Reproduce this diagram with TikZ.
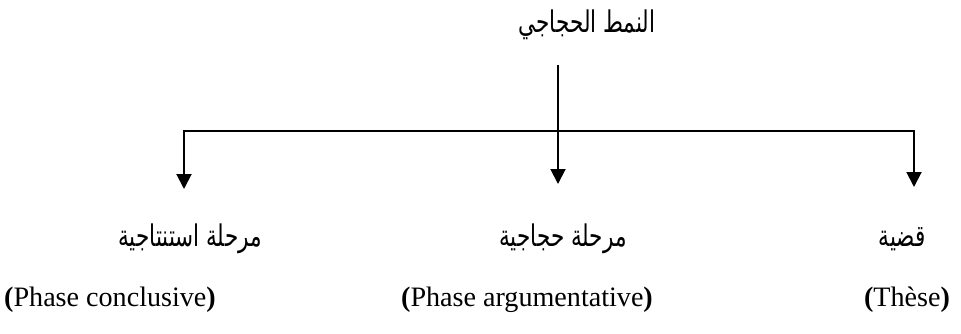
\documentclass[tikz,border=0pt]{standalone}
\usepackage{fontspec}
\setmainfont{Liberation Serif}
\newfontfamily\arabicfont[Script=Arabic, FakeStretch=0.72]{DejaVu Sans}
\TeXXeTstate=1
\usepackage{tikz}
\usetikzlibrary{arrows.meta}

\begin{document}
\begin{tikzpicture}[>={Triangle[length=0.3cm, width=0.3cm]},
  line width=1.1pt,
  arlbl/.style={font=\fontsize{17}{20}\selectfont\arabicfont, inner sep=0pt},
  frlbl/.style={font=\fontsize{16}{19}\selectfont, inner sep=0pt}]
\useasboundingbox (0,0) rectangle (19.22,-6.66);
% Title
\node[arlbl] (title) at (11.74,-0.50) {\beginR النمط الحجاجي\endR};
% Junction and arrow tips
\coordinate (top)  at (11.16,-1.30);
\coordinate (jM)   at (11.16,-2.62);
\coordinate (tipL) at (3.68,-3.78);
\coordinate (tipM) at (11.16,-3.68);
\coordinate (tipR) at (18.28,-3.74);
% Arabic labels
\node[arlbl] (lblL) at (3.80,-4.78)  {\beginR مرحلة استنتاجية\endR};
\node[arlbl] (lblM) at (11.26,-4.78) {\beginR مرحلة حجاجية\endR};
\node[arlbl] (lblR) at (18.04,-4.78) {\beginR قضية\endR};
% French labels
\node[frlbl] (frL) at (2.20,-6.00)  {\textbf{(}Phase conclusive\textbf{)}};
\node[frlbl] (frM) at (10.54,-6.00) {\textbf{(}Phase argumentative\textbf{)}};
\node[frlbl] (frR) at (18.14,-6.00) {\textbf{(}Thèse\textbf{)}};
% Arrows
\draw[->] (top) -- (tipM);
\draw[->] (jM) -| (tipL);
\draw[->] (jM) -| (tipR);
\end{tikzpicture}
\end{document}
